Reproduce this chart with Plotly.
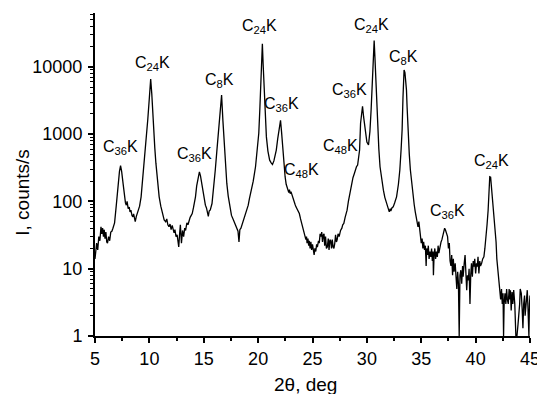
import math
import plotly.graph_objects as go

two_theta = [
    5.0, 5.08, 5.15, 5.25, 5.35, 5.45, 5.55, 5.62, 5.7, 5.78,
    5.85, 5.92, 6.0, 6.08, 6.15, 6.25, 6.35, 6.45, 6.55, 6.65,
    6.8, 6.95, 7.1, 7.25, 7.35, 7.45, 7.58, 7.7, 7.8, 7.88,
    7.95, 8.05, 8.15, 8.22, 8.3, 8.4, 8.48, 8.55, 8.62, 8.7,
    8.8, 8.9, 9.0, 9.1, 9.24, 9.4, 9.55, 9.7, 9.85, 10.0,
    10.12, 10.22, 10.36, 10.5, 10.6, 10.75, 10.9, 11.05, 11.2, 11.36,
    11.5, 11.6, 11.7, 11.8, 11.9, 12.0, 12.1, 12.2, 12.27, 12.35,
    12.45, 12.55, 12.62, 12.7, 12.78, 12.85, 12.95, 13.05, 13.15, 13.25,
    13.33, 13.45, 13.55, 13.64, 13.75, 13.85, 13.94, 14.05, 14.15, 14.24,
    14.35, 14.48, 14.6, 14.7, 14.85, 15.0, 15.15, 15.25, 15.35, 15.42,
    15.5, 15.6, 15.76, 15.9, 16.06, 16.2, 16.36, 16.5, 16.64, 16.76,
    16.88, 17.0, 17.12, 17.25, 17.42, 17.55, 17.73, 17.85, 17.95, 18.05,
    18.15, 18.24, 18.32, 18.42, 18.5, 18.6, 18.7, 18.79, 18.9, 19.0,
    19.09, 19.2, 19.39, 19.55, 19.76, 19.9, 20.06, 20.15, 20.24, 20.32,
    20.39, 20.46, 20.55, 20.65, 20.76, 20.9, 21.06, 21.2, 21.32, 21.45,
    21.55, 21.67, 21.8, 21.9, 22.0, 22.06, 22.15, 22.27, 22.38, 22.48,
    22.58, 22.67, 22.75, 22.82, 22.88, 22.95, 23.02, 23.1, 23.2, 23.3,
    23.4, 23.48, 23.6, 23.7, 23.79, 23.9, 24.0, 24.09, 24.2, 24.3,
    24.39, 24.45, 24.5, 24.58, 24.65, 24.7, 24.78, 24.85, 24.92, 25.0,
    25.08, 25.15, 25.22, 25.3, 25.38, 25.45, 25.55, 25.62, 25.7, 25.76,
    25.85, 25.92, 26.0, 26.06, 26.12, 26.2, 26.28, 26.36, 26.45, 26.52,
    26.6, 26.67, 26.75, 26.82, 26.9, 26.97, 27.05, 27.12, 27.2, 27.27,
    27.35, 27.45, 27.58, 27.7, 27.78, 27.88, 28.0, 28.1, 28.18, 28.3,
    28.4, 28.48, 28.6, 28.72, 28.85, 28.95, 29.05, 29.15, 29.25, 29.33,
    29.42, 29.5, 29.6, 29.7, 29.85, 30.0, 30.15, 30.28, 30.39, 30.48,
    30.55, 30.62, 30.67, 30.74, 30.82, 30.9, 30.97, 31.1, 31.21, 31.35,
    31.52, 31.65, 31.75, 31.82, 31.9, 31.98, 32.06, 32.15, 32.2, 32.3,
    32.42, 32.55, 32.73, 32.9, 33.03, 33.15, 33.24, 33.32, 33.38, 33.42,
    33.5, 33.58, 33.64, 33.7, 33.79, 33.9, 34.0, 34.12, 34.24, 34.35,
    34.45, 34.55, 34.65, 34.7, 34.78, 34.85, 34.92, 35.0, 35.08, 35.15,
    35.22, 35.3, 35.38, 35.45, 35.5, 35.58, 35.65, 35.72, 35.8, 35.88,
    35.95, 36.02, 36.08, 36.12, 36.18, 36.25, 36.32, 36.4, 36.48, 36.55,
    36.62, 36.67, 36.75, 36.82, 36.9, 37.0, 37.08, 37.15, 37.22, 37.3,
    37.42, 37.5, 37.58, 37.65, 37.73, 37.8, 37.88, 37.95, 38.02, 38.12,
    38.2, 38.27, 38.35, 38.42, 38.49, 38.56, 38.64, 38.72, 38.8, 38.85,
    38.95, 39.03, 39.1, 39.18, 39.25, 39.33, 39.4, 39.48, 39.55, 39.62,
    39.7, 39.78, 39.85, 39.92, 40.0, 40.08, 40.15, 40.22, 40.3, 40.38,
    40.45, 40.55, 40.65, 40.76, 40.85, 40.97, 41.05, 41.15, 41.25, 41.3,
    41.38, 41.45, 41.52, 41.6, 41.7, 41.8, 41.88, 41.95, 42.05, 42.15,
    42.22, 42.3, 42.38, 42.45, 42.52, 42.57, 42.62, 42.7, 42.78, 42.85,
    42.92, 43.0, 43.08, 43.15, 43.2, 43.27, 43.35, 43.42, 43.5, 43.6,
    43.7, 43.8, 43.9, 43.97, 44.05, 44.1, 44.2, 44.28, 44.35, 44.42,
    44.5, 44.55, 44.6, 44.68, 44.75, 44.82, 44.9, 44.95, 45.0,
]

counts = [
    14, 20, 24, 19, 30, 26, 42, 33, 40, 30,
    38, 28, 35, 25, 24, 30, 26, 35, 36, 40,
    48, 85, 165, 280, 340, 280, 185, 120, 95, 88,
    100, 78, 82, 70, 74, 62, 59, 65, 55, 50,
    60, 66, 74, 85, 117, 220, 410, 800, 1620, 3500,
    6600, 4000, 1290, 620, 370, 200, 117, 85, 65, 53,
    50, 55, 45, 42, 46, 38, 44, 35, 34, 38,
    30, 32, 27, 21, 33, 45, 24, 37, 30, 40,
    37, 48, 45, 53, 58, 62, 66, 80, 95, 117,
    170, 233, 275, 240, 165, 110, 88, 80, 70, 60,
    72, 75, 93, 150, 293, 550, 1030, 2000, 3800, 1600,
    730, 350, 185, 120, 74, 62, 53, 48, 45, 40,
    36, 25, 38, 40, 44, 48, 55, 59, 68, 80,
    88, 110, 147, 200, 327, 550, 1030, 2200, 5060, 11000,
    22000, 11000, 5000, 1800, 910, 560, 410, 375, 355, 400,
    470, 580, 850, 1150, 1500, 1600, 1100, 580, 330, 233,
    180, 156, 150, 135, 150, 130, 140, 125, 117, 100,
    90, 83, 75, 70, 66, 55, 48, 42, 35, 32,
    27, 30, 24, 28, 22, 26, 20, 25, 19, 23,
    18, 16, 20, 18, 23, 21, 26, 24, 33, 30,
    35, 25, 32, 33, 22, 30, 20, 21, 28, 19,
    27, 26, 20, 27, 21, 20, 24, 32, 25, 27,
    33, 30, 37, 40, 45, 47, 58, 65, 74, 100,
    125, 147, 190, 225, 260, 300, 330, 347, 450, 580,
    1450, 2100, 2600, 1800, 1030, 760, 690, 1100, 2300, 4500,
    9000, 16000, 24500, 14000, 7100, 3000, 1290, 600, 327, 210,
    147, 115, 100, 93, 82, 75, 70, 78, 72, 80,
    83, 95, 117, 180, 293, 600, 1150, 3500, 7500, 9000,
    8200, 6000, 4550, 2500, 910, 500, 293, 180, 117, 90,
    70, 59, 48, 42, 50, 38, 30, 24, 28, 20,
    25, 19, 22, 11, 20, 16, 22, 14, 18, 15,
    20, 13, 18, 8, 16, 20, 14, 18, 15, 22,
    17, 19, 22, 25, 27, 32, 38, 40, 38, 34,
    30, 20, 24, 13, 11, 16, 8, 14, 9, 12,
    7, 5, 9, 6, 1, 8, 9.5, 6, 11, 7.6,
    12, 16, 9, 4.8, 8, 6.7, 10, 3, 8, 12,
    7.6, 13, 10.7, 14, 8.5, 12, 10.7, 15, 8.5, 13,
    11, 12, 14, 15, 20, 30, 45, 74, 150, 233,
    230, 170, 120, 93, 55, 30, 25, 14, 10, 6,
    4.8, 3.5, 5, 3, 4.3, 1, 3, 4.3, 3, 5,
    3.5, 3, 5, 3.5, 4.8, 2.4, 4.5, 3, 4.8, 3,
    1, 1, 1.5, 2, 3, 5, 4.3, 2.5, 1.3, 3,
    4, 2, 2.4, 3.5, 4.8, 2.5, 1, 3, 4,
]
assert len(two_theta) == len(counts)

peak_labels = [
    "C<sub>36</sub>K", "C<sub>24</sub>K", "C<sub>36</sub>K", "C<sub>8</sub>K",
    "C<sub>24</sub>K", "C<sub>36</sub>K", "C<sub>48</sub>K", "C<sub>48</sub>K",
    "C<sub>36</sub>K", "C<sub>24</sub>K", "C<sub>8</sub>K", "C<sub>36</sub>K",
    "C<sub>24</sub>K",
]
label_theta = [7.36, 10.27, 14.18, 16.45, 20.14, 22.14, 24.0, 27.6, 28.4, 30.45, 33.4, 37.4, 41.45]
label_counts = [690, 12600, 560, 6900, 43600, 3090, 316, 725, 4900, 45700, 15500, 78, 437]

FONT = "Liberation Sans, Arial, sans-serif"

fig = go.Figure()
fig.add_trace(go.Scatter(
    x=two_theta, y=counts, mode="lines",
    line=dict(color="black", width=1.3),
    showlegend=False, hoverinfo="skip",
))

annotations = []
for txt, tx, cy in zip(peak_labels, label_theta, label_counts):
    annotations.append(dict(
        x=tx, y=math.log10(cy), xref="x", yref="y", text=txt,
        showarrow=False, xanchor="center", yanchor="middle", yshift=-3,
        font=dict(family=FONT, size=16, color="black"),
    ))
annotations.append(dict(
    x=-0.166, y=0.446, xref="paper", yref="paper", text="I, counts/s",
    showarrow=False, textangle=-90, xanchor="center", yanchor="middle",
    font=dict(family=FONT, size=19, color="black"),
))
annotations.append(dict(
    x=0.483, y=-0.149, xref="paper", yref="paper", text="2θ, deg",
    showarrow=False, xanchor="center", yanchor="middle",
    font=dict(family=FONT, size=19, color="black"),
))

# page body has an 8px default margin; size the figure so the plot area
# lands on the same pixels as the reference
fig.update_layout(
    width=537, height=386,
    margin=dict(l=87, r=10, t=5, b=58),
    paper_bgcolor="white", plot_bgcolor="white",
    font=dict(family=FONT, size=18, color="black"),
    annotations=annotations,
)
fig.update_xaxes(
    range=[5, 45], dtick=5, tick0=5,
    showline=True, linecolor="black", linewidth=2,
    ticks="outside", ticklen=5, tickwidth=1.5, tickcolor="black",
    minor=dict(dtick=2.5, ticks="outside", ticklen=3, tickcolor="black", tickwidth=1.5),
    showgrid=False, zeroline=False, mirror=False,
    ticklabeloverflow="allow",
    tickfont=dict(family=FONT, size=18, color="black"),
)
fig.update_yaxes(
    type="log", range=[0, 4.8], dtick=1, tickformat="d",
    showline=True, linecolor="black", linewidth=2,
    ticks="outside", ticklen=5, tickwidth=1.5, tickcolor="black",
    minor=dict(ticks="outside", ticklen=3, tickcolor="black", tickwidth=1),
    showgrid=False, zeroline=False, mirror=False,
    ticklabelstandoff=2,
    tickfont=dict(family=FONT, size=18, color="black"),
)

fig.write_html("out.html")
